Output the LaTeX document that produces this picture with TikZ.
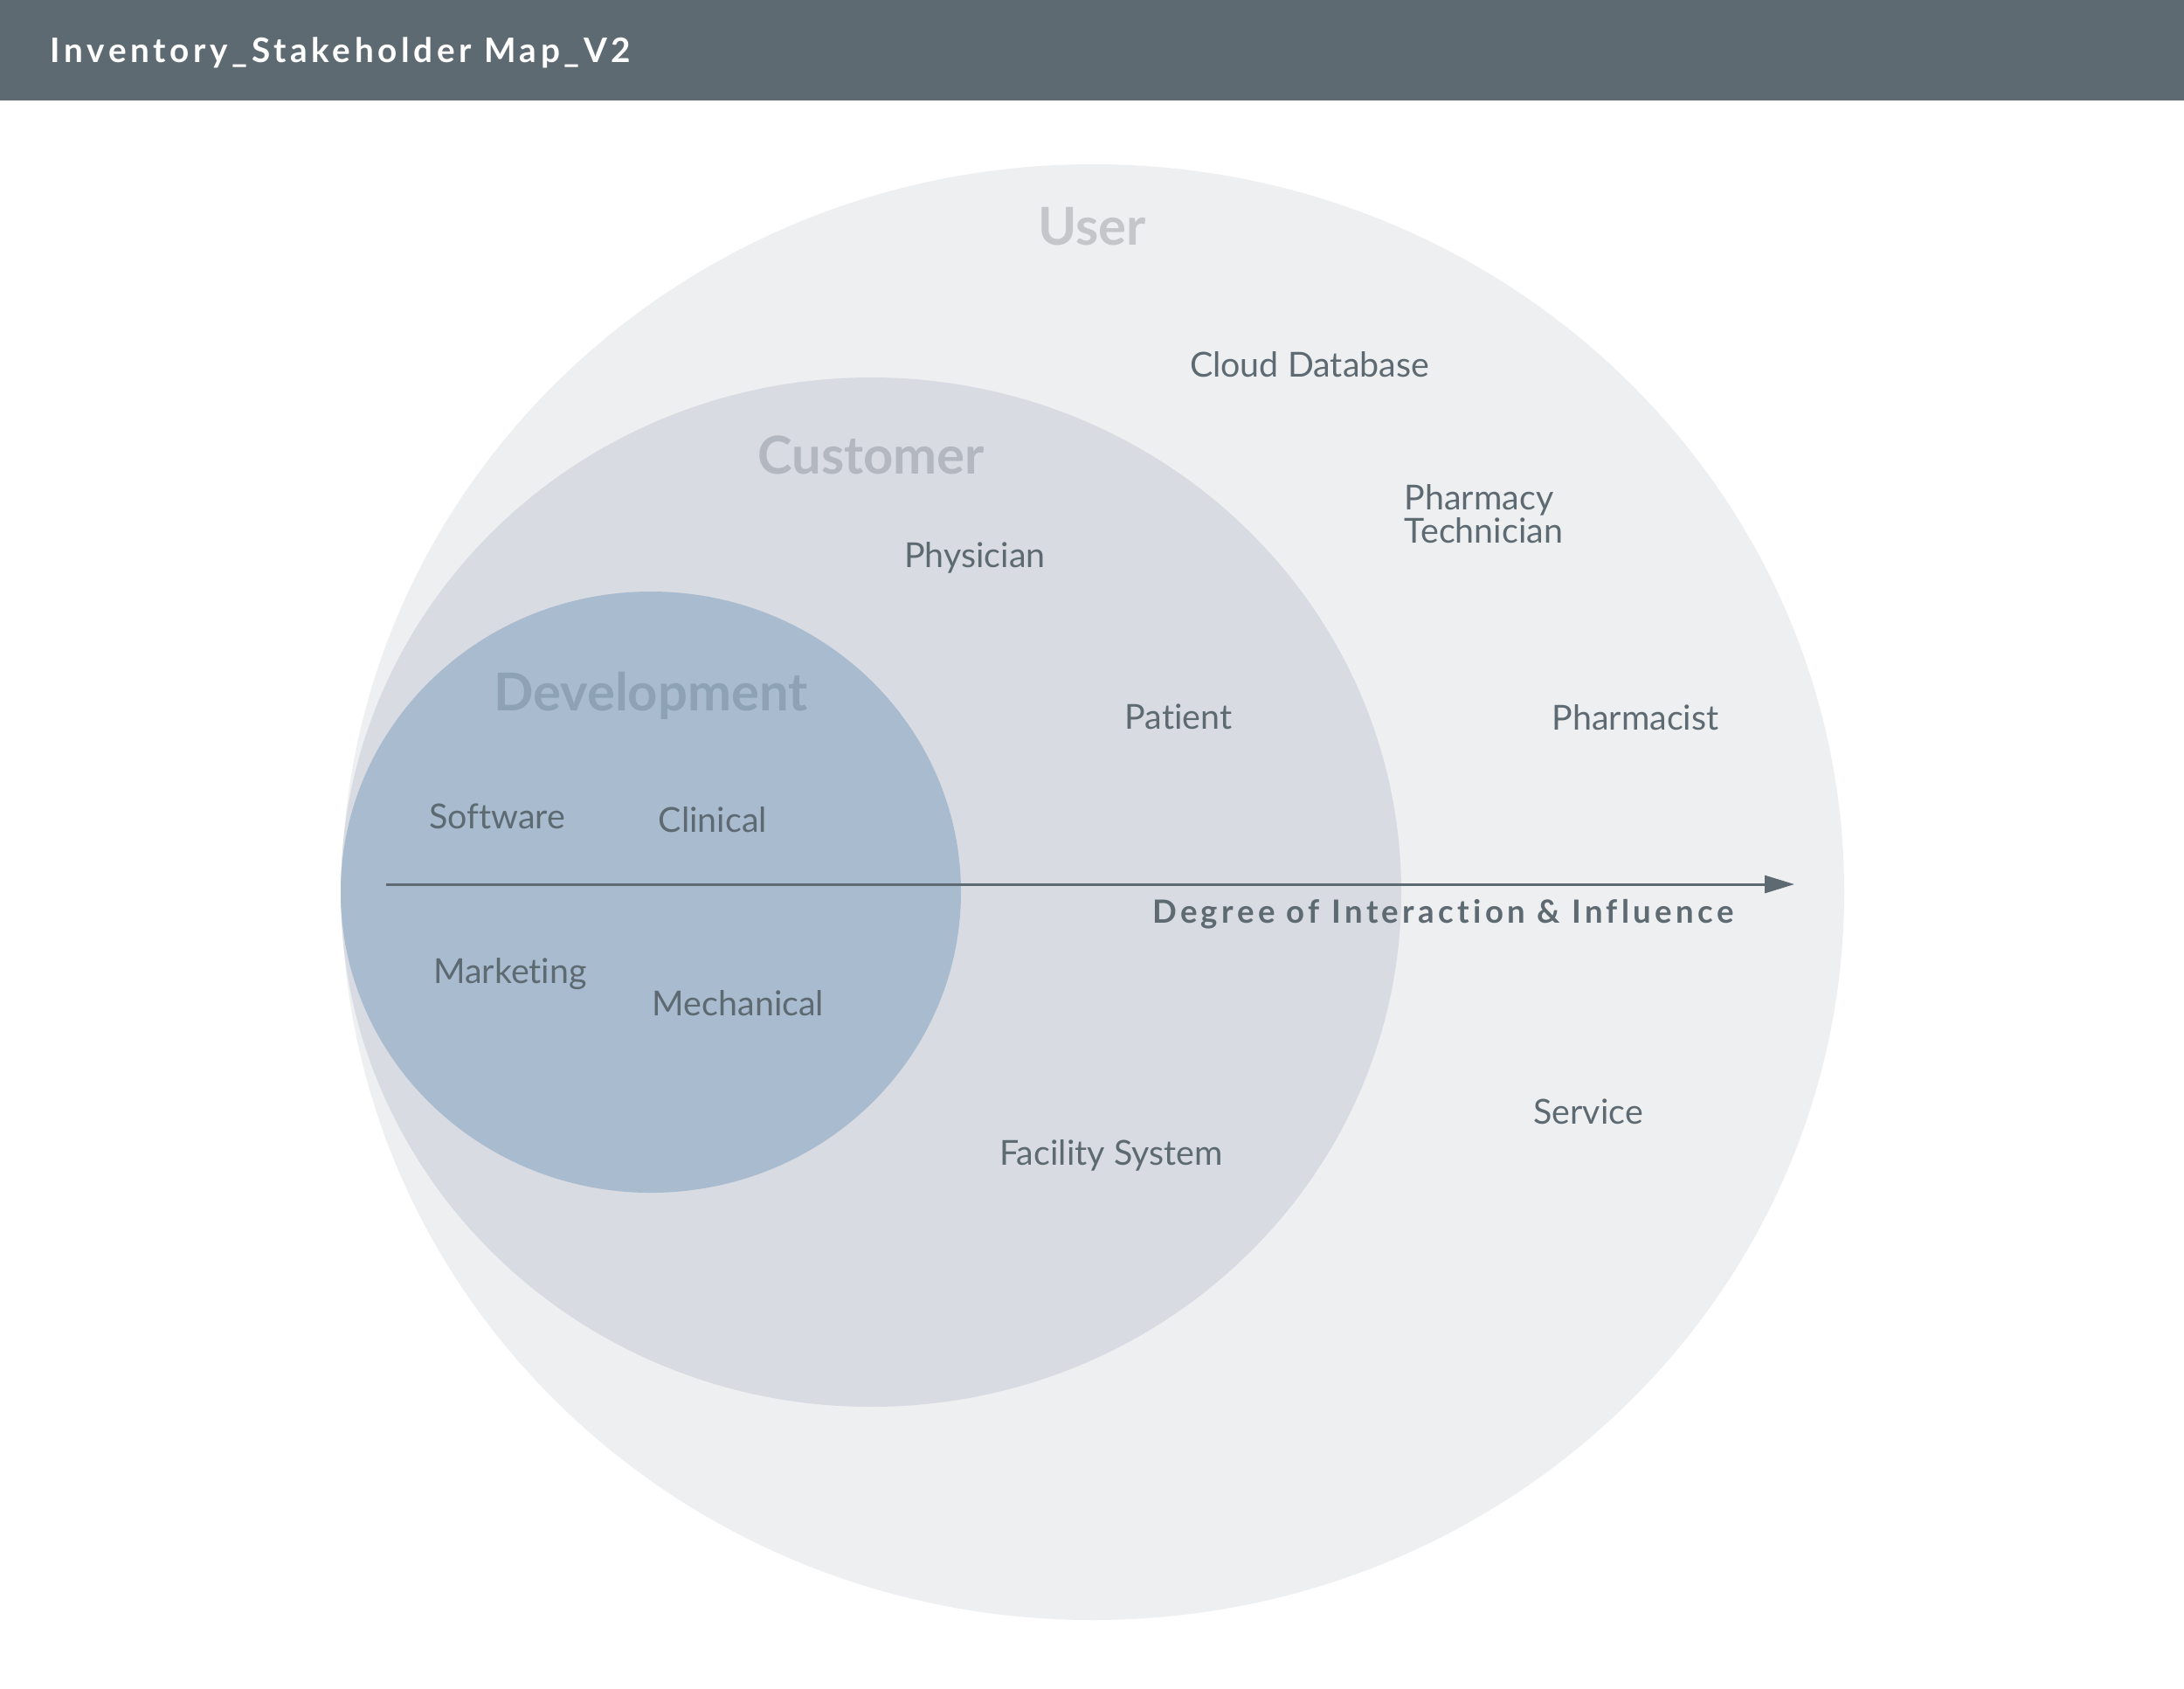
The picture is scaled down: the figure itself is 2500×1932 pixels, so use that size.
\documentclass[tikz,border=0pt]{standalone}
\usepackage{fontspec}
\setmainfont{Lato}[Ligatures=NoCommon]
\usepackage{tikz}
\usetikzlibrary{arrows.meta}
\definecolor{inkgray}{HTML}{5D6A72}
\definecolor{userfill}{HTML}{EEEFF1}
\definecolor{custfill}{HTML}{D8DBE2}
\definecolor{devfill}{HTML}{A9BBCF}
\definecolor{usertitle}{HTML}{C4C6CA}
\definecolor{custtitle}{HTML}{B3B8C0}
\definecolor{devtitle}{HTML}{8EA2B5}

\begin{document}
\begin{tikzpicture}[x=0.01cm,y=0.01cm]
\tikzstyle{every node}+=[inner sep=0pt]
\tikzstyle{member}=[text=inkgray, font=\fontsize{11.2}{12}\selectfont]
\tikzstyle{ringtitle}=[font=\fontsize{17}{19}\bfseries\selectfont]
\useasboundingbox (0,0) rectangle (2500,-1932);
\fill [white] (0,0) rectangle (2500,-1932);
% header band
\fill [inkgray] (0,0) rectangle (2500,-115);
\node [anchor=west, text=white, font=\fontsize{11}{13}\bfseries\addfontfeatures{LetterSpace=12}\selectfont] (title) at (57,-60) {Inventory\_Stakeholder Map\_V2};
% rings
\fill [userfill] (1251,-1021) ellipse (860 and 833);
\fill [custfill] (997,-1021) ellipse (607 and 589);
\fill [devfill] (745,-1021) ellipse (355 and 344);
\node [ringtitle, text=usertitle] (user) at (1250,-259) {User};
\node [ringtitle, text=custtitle] (customer) at (997,-521) {Customer};
\node [ringtitle, text=devtitle] (development) at (745,-796) {Development};
% stakeholders
\node [member] (cloud) at (1499,-417) {Cloud Database};
\node [member, anchor=west, align=left, font=\fontsize{11.2}{11}\selectfont] (techn) at (1607,-588) {Pharmacy\\Technician};
\node [member] (physician) at (1116,-638) {Physician};
\node [member] (patient) at (1349,-820) {Patient};
\node [member] (pharmacist) at (1872,-821) {Pharmacist};
\node [member] (software) at (569,-934) {Software};
\node [member] (clinical) at (816,-938) {Clinical};
\node [member] (marketing) at (584,-1115) {Marketing};
\node [member] (mechanical) at (845,-1148) {Mechanical};
\node [member] (service) at (1818,-1272) {Service};
\node [member] (facility) at (1272,-1322) {Facility System};
% axis
\coordinate (axisstart) at (442,-1012);
\coordinate (axisend) at (2054,-1012);
\draw [inkgray, line width=0.85pt, -{Triangle[length=0.34cm, width=0.2cm]}] (axisstart) -- (axisend);
\node [text=inkgray, font=\fontsize{10.4}{12}\bfseries\addfontfeatures{LetterSpace=12}\selectfont] (axislabel) at (1652,-1046) {Degree of Interaction \& Influence};
\end{tikzpicture}
\end{document}
